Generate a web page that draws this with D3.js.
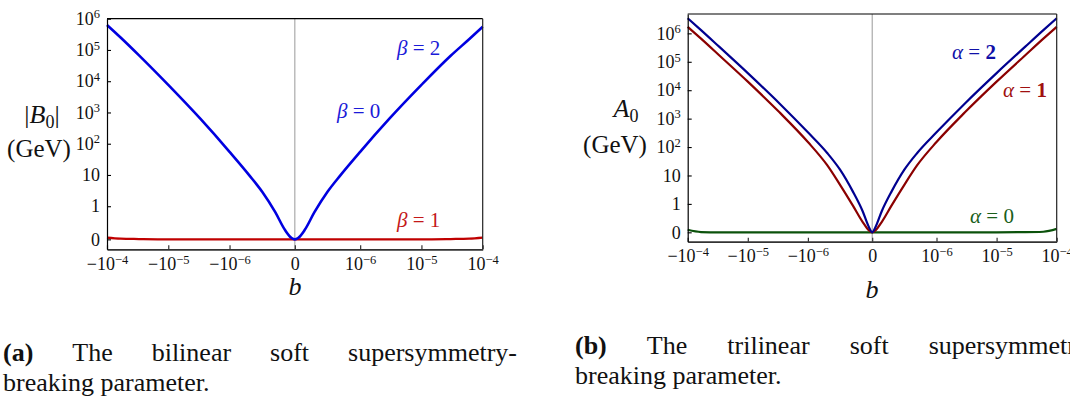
<!DOCTYPE html>
<html>
<head>
<meta charset="utf-8">
<script src="https://cdn.jsdelivr.net/npm/d3@7"></script>
<style>
  body { margin: 0; background: #fff; }
  svg { display: block; font-family: 'Liberation Serif', 'Times New Roman', serif; }
</style>
</head>
<body>
<svg id="fig" width="1070" height="396"></svg>
<script>
// ---- data ----
var bTicks       = [-1e-4, -1e-5, -1e-6, 0, 1e-6, 1e-5, 1e-4]
var bTickLabels  = [['−10', '−4'], ['−10', '−5'], ['−10', '−6'], ['0', ''], ['10', '−6'], ['10', '−5'], ['10', '−4']]
var yTicks       = [0, 1, 10, 1e2, 1e3, 1e4, 1e5, 1e6]
var yTickLabels  = [['0', ''], ['1', ''], ['10', ''], ['10', '2'], ['10', '3'], ['10', '4'], ['10', '5'], ['10', '6']]

var bGrid = [-1e-4, -6e-5, -3e-5, -1e-5, -3e-6, -1e-6, -7e-7, -5e-7, -3e-7, -1.5e-7, -5e-8, 0,
              5e-8, 1.5e-7, 3e-7, 5e-7, 7e-7, 1e-6, 3e-6, 1e-5, 3e-5, 6e-5, 1e-4]

// (a) |B0| in GeV
var B0_beta02 = [6.3e5, 2.5e5, 6.7e4, 7.6e3, 630, 55, 9.9, 2.9, 0.82, 0.28, 0.04, 0,
                 0.04, 0.28, 0.82, 2.9, 9.9, 55, 630, 7.6e3, 6.5e4, 2.2e5, 5.5e5]
var B0_beta1  = [0.05, 0.02, 0.01, 0, 0, 0, 0, 0, 0, 0, 0, 0,
                 0, 0, 0, 0, 0, 0, 0, 0, 0.01, 0.02, 0.05]

// (b) A0 in GeV
var A0_alpha2 = [3.4e6, 1.3e6, 3.4e5, 4e4, 3.5e3, 330, 62, 16, 2.7, 0.75, 0.18, 0,
                 0.18, 0.75, 2.7, 16, 62, 330, 3.5e3, 4e4, 3.4e5, 1.3e6, 3.4e6]
var A0_alpha1 = [1.7e6, 6.5e5, 1.7e5, 2e4, 1.7e3, 150, 23, 4.7, 0.94, 0.37, 0.07, 0,
                 0.07, 0.37, 0.94, 4.7, 23, 150, 1.7e3, 2e4, 1.7e5, 6.5e5, 1.7e6]
var A0_alpha0 = [0.09, 0.01, 0, 0, 0, 0, 0, 0, 0, 0, 0, 0,
                 0, 0, 0, 0, 0, 0, 0, 0, 0.005, 0.02, 0.12]

// symmetric log transform (linear between -c and c)
function symlog(v, c, L) {
  var a = Math.abs(v)
  return a <= c ? v / c * L : Math.sign(v) * (L + Math.log10(a / c))
}

var svg = d3.select('#fig')

var panels = [
  { left: 107, right: 482.7, top: 18.7, bottom: 249.3, yMin: -0.3, yMax: 1e6, Lx: 1.066, Ly: 1.06,
    series: [ {v: B0_beta1, color: '#c00000', w: 2.2}, {v: B0_beta02, color: '#0000e0', w: 2.6} ],
    labels: [
      {x: 397, y: 55,  color: '#1a1ad8', parts: [['β', 'i'], [' = ', ''], ['2', '']]},
      {x: 337, y: 118, color: '#1a1ad8', parts: [['β', 'i'], [' = ', ''], ['0', '']]},
      {x: 397, y: 227, color: '#c41818', parts: [['β', 'i'], [' = ', ''], ['1', '']]}
    ],
    yName: {x: 42, y: 123, sym: 'B', bars: true}, gev: {x: 39, y: 157}, bLab: {x: 295, y: 295},
    caption: {x0: 3, x1: 517, y: 361, tag: '(a)', words: ['The', 'bilinear', 'soft', 'supersymmetry-'], line2: 'breaking parameter.'}
  },
  { left: 687.7, right: 1056.7, top: 14, bottom: 241.7, yMin: -0.33, yMax: 4.8e6, Lx: 1.07, Ly: 1.0,
    series: [ {v: A0_alpha0, color: '#0b520b', w: 2.2}, {v: A0_alpha1, color: '#8b0000', w: 2.2}, {v: A0_alpha2, color: '#000090', w: 2.2} ],
    labels: [
      {x: 952, y: 59,  color: '#1010a8', parts: [['α', 'i'], [' = ', ''], ['2', 'b']]},
      {x: 1003, y: 97, color: '#a01010', parts: [['α', 'i'], [' = ', ''], ['1', 'b']]},
      {x: 970, y: 223, color: '#1a5e1a', parts: [['α', 'i'], [' = ', ''], ['0', '']]}
    ],
    yName: {x: 626, y: 117, sym: 'A', bars: false}, gev: {x: 615, y: 153}, bLab: {x: 872, y: 298},
    caption: {x0: 575, x1: 1089, y: 354, tag: '(b)', words: ['The', 'trilinear', 'soft', 'supersymmetry'], line2: 'breaking parameter.'}
  }
]

function setTick(text, lab) {
  text.text(null)
  text.append('tspan').text(lab[0])
  if (lab[1]) text.append('tspan').attr('font-size', 12.5).attr('dy', -6.5).text(lab[1])
}

panels.forEach(function(p) {
  var tx = function(v) { return symlog(v, 1e-6, p.Lx) }
  var ty = function(v) { return symlog(v, 1, p.Ly) }
  var x = d3.scaleLinear().domain([tx(-1e-4), tx(1e-4)]).range([p.left, p.right])
  var y = d3.scaleLinear().domain([ty(p.yMin), ty(p.yMax)]).range([p.bottom, p.top])
  var g = svg.append('g')

  // zero line
  g.append('line')
    .attr('x1', x(tx(0))).attr('x2', x(tx(0)))
    .attr('y1', p.top).attr('y2', p.bottom)
    .attr('stroke', '#999').attr('stroke-width', 1)

  // curves
  var line = d3.line()
    .x(function(d) { return x(tx(d[0])) })
    .y(function(d) { return y(ty(d[1])) })
    .curve(d3.curveMonotoneX)
  p.series.forEach(function(s) {
    g.append('path')
      .datum(bGrid.map(function(b, i) { return [b, s.v[i]] }))
      .attr('fill', 'none')
      .attr('stroke', s.color)
      .attr('stroke-width', s.w)
      .attr('d', line)
  })

  // top / right spines
  g.append('line').attr('x1', p.left).attr('x2', p.right).attr('y1', p.top).attr('y2', p.top)
    .attr('stroke', '#000').attr('stroke-width', 1.2)
  g.append('line').attr('x1', p.right).attr('x2', p.right).attr('y1', p.top).attr('y2', p.bottom)
    .attr('stroke', '#222').attr('stroke-width', 1.2)

  // x axis
  var xAxis = g.append('g')
    .attr('transform', 'translate(0,' + p.bottom + ')')
    .call(d3.axisBottom(x).tickValues(bTicks.map(tx)).tickSize(-4).tickSizeOuter(0).tickPadding(8).tickFormat(''))
    .attr('font-family', null)
  xAxis.select('.domain').attr('stroke', '#333').attr('stroke-width', 1.7)
  xAxis.selectAll('.tick line').attr('stroke', '#333').attr('stroke-width', 1.2)
  xAxis.selectAll('.tick text')
    .attr('font-size', 18).attr('fill', '#111')
    .each(function(d, i) { setTick(d3.select(this), bTickLabels[i]) })

  // y axis
  var yAxis = g.append('g')
    .attr('transform', 'translate(' + p.left + ',0)')
    .call(d3.axisLeft(y).tickValues(yTicks.map(ty)).tickSize(-4).tickSizeOuter(0).tickPadding(7).tickFormat(''))
    .attr('font-family', null)
  yAxis.select('.domain').attr('stroke', '#000').attr('stroke-width', 1.2)
  yAxis.selectAll('.tick line').attr('stroke', '#000').attr('stroke-width', 1.1)
  yAxis.selectAll('.tick text')
    .attr('font-size', 18).attr('fill', '#111')
    .each(function(d, i) { setTick(d3.select(this), yTickLabels[i]) })

  // curve labels
  p.labels.forEach(function(l) {
    var t = g.append('text').attr('x', l.x).attr('y', l.y).attr('font-size', 21).attr('fill', l.color)
      .attr('xml:space', 'preserve')
    l.parts.forEach(function(pt) {
      var s = t.append('tspan').text(pt[0])
      if (pt[1] === 'i') s.attr('font-style', 'italic')
      if (pt[1] === 'b') s.attr('font-weight', 'bold')
    })
  })

  // y axis name
  var yn = g.append('text').attr('x', p.yName.x).attr('y', p.yName.y)
    .attr('font-size', 26).attr('text-anchor', 'middle').attr('fill', '#111')
  if (p.yName.bars) yn.append('tspan').text('|')
  yn.append('tspan').attr('font-style', 'italic').text(p.yName.sym)
  yn.append('tspan').attr('font-size', 18).attr('dy', 5).text('0')
  if (p.yName.bars) yn.append('tspan').attr('dy', -5).text('|')
  g.append('text').attr('x', p.gev.x).attr('y', p.gev.y)
    .attr('font-size', 25).attr('text-anchor', 'middle').attr('fill', '#111').text('(GeV)')

  // x axis name
  g.append('text').attr('x', p.bLab.x).attr('y', p.bLab.y)
    .attr('font-size', 26).attr('font-style', 'italic').attr('text-anchor', 'middle').attr('fill', '#111').text('b')

  // caption, first line justified
  var c = p.caption
  var words = [c.tag].concat(c.words)
  var nodes = words.map(function(w, i) {
    return g.append('text').attr('y', c.y).attr('font-size', 26).attr('fill', '#111')
      .attr('font-weight', i === 0 ? 'bold' : null).text(w)
  })
  var widths = nodes.map(function(n) { return n.node().getComputedTextLength() })
  var gap = (c.x1 - c.x0 - d3.sum(widths)) / (words.length - 1)
  var cx = c.x0
  nodes.forEach(function(n, i) { n.attr('x', cx); cx += widths[i] + gap })
  g.append('text').attr('x', c.x0).attr('y', c.y + 30).attr('font-size', 26).attr('fill', '#111').text(c.line2)
})
</script>
</body>
</html>
